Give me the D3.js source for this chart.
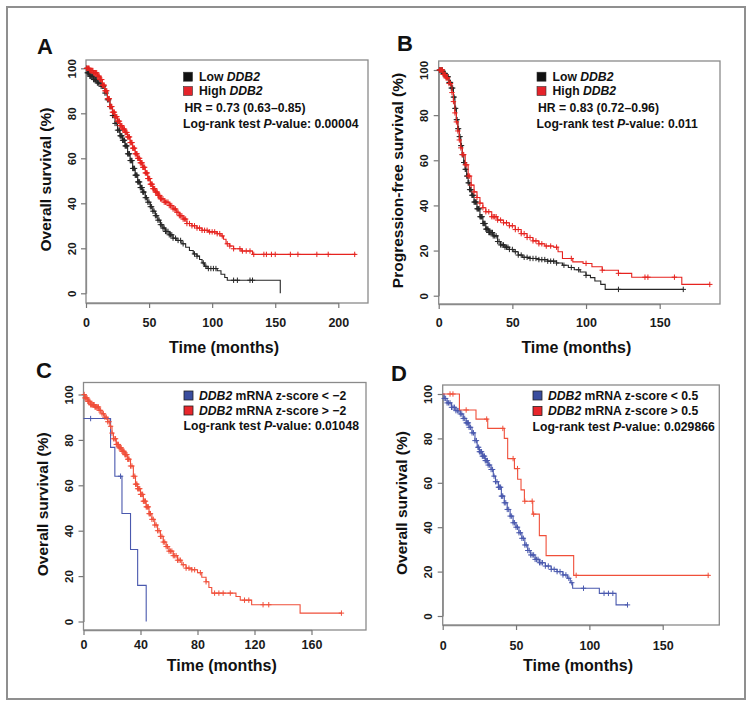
<!DOCTYPE html>
<html><head><meta charset="utf-8">
<script src="https://cdn.jsdelivr.net/npm/d3@7"></script>
<style>
body{margin:0;background:#fff}
svg{display:block}
text{font-family:"Liberation Sans",Arial,Helvetica,sans-serif}
</style>
</head><body>
<svg id="chart" width="752" height="707"></svg>
<script>
// ---------------- DATA ----------------
const panelLetters = ["A","B","C","D"];
const yTicks = [0,20,40,60,80,100];
const xTicksA = [0,50,100,150,200];
const xTicksB = [0,50,100,150];
const xTicksC = [0,40,80,120,160];
const xTicksD = [0,50,100,150];
const yTitles = ["Overall survival (%)","Progression-free survival (%)","Overall survival (%)","Overall survival (%)"];
const xTitle = "Time (months)";

// Panel A: Overall survival, Low vs High DDB2 (time months, survival %)
const aLowSteps = [[0,100],[1,98],[3,96.5],[6,95],[9,93.5],[12,92],[15,89],[17,86],[19,83],[21,79],[23,75.5],[25,72.5],[27,70],[29,68],[31,65.5],[33,62],[35,59],[37,55.5],[39,52.5],[41,49.5],[43,47],[45,45],[47,42.5],[49,40.5],[51,38.5],[53,36.5],[55,34.5],[57,32.5],[59,30.5],[61,29],[63,27.5],[66,26],[69,24.5],[72,23.5],[76,22],[79,20.5],[82,19],[85,17.5],[88,16.5],[90,15],[92,13.5],[94,12],[96,11],[104,10],[107,8.5],[110,7],[112,5.8],[154,0]];
const aHighSteps = [[0,100],[3,99],[6,98],[9,96.5],[11,95],[13,92.5],[15,90],[17,86.5],[19,83],[21,80.5],[23,78.5],[25,76.5],[27,74.5],[29,73],[31,71.5],[33,69.5],[35,67],[37,64.5],[39,62],[41,60],[43,58],[45,56],[47,53.5],[49,51],[51,48.5],[53,46.5],[55,45],[57,43.5],[59,42],[62,40.5],[66,39],[69,37.5],[72,36],[74,34.5],[77,33],[80,31],[84,30],[88,29],[92,28],[97,27.3],[104,26.5],[107,25.5],[109,24],[111,22],[114,21],[117,19.8],[123,18.8],[132,17.3],[214,17.3]];
const aLowCensor = [0.5,1,1.5,2,2.5,3,3.5,4,4.5,5,5.5,6,6.5,7,7.5,8,8.5,9,9.5,10,11,12,13,14,15,16,17,18,19,20,21,22,23,24,25,26,26.5,27,27.5,28,28.5,29,29.5,30,30.5,31,31.5,32,32.5,33,33.5,34,34.5,35,35.5,36,36.5,37,37.5,38,38.5,39,39.5,40,40.5,41,41.5,42,42.5,43,43.5,44,44.5,45,45.5,46,47,48,49,50,51,52,53,54,55,56,57,58,59,60,61,62,63,64,65,66,67,68,69,71,73,75,77,86,88,93,95,97,99,101,103,117,120,130,132];
const aHighCensor = [0.5,1,1.5,2,2.5,3,3.5,4,4.5,5,5.5,6,6.5,7,7.5,8,8.5,9,9.5,10,10.5,11,11.5,12,12.5,13,13.5,14,14.5,15,15.5,16,16.5,17,17.5,18,18.5,19,19.5,20,20.5,21,21.5,22,22.5,23,23.5,24,24.5,25,25.5,26,26.5,27,27.5,28,28.5,29,29.5,30,30.5,31,31.5,32,32.5,33,33.5,34,34.5,35,35.5,36,36.5,37,37.5,38,38.5,39,39.5,40,40.5,41,41.5,42,42.5,43,43.5,44,44.5,45,45.5,46,46.5,47,47.5,48,48.5,49,49.5,50,50.5,51,51.5,52,52.5,53,53.5,54,54.5,55,55.5,56,56.5,57,57.5,58,58.5,59,59.5,60,61,62,63,64,65,66,67,68,69,70,71,72,73,74,75,76,77,78,79,80,82,84,86,88,90,92,94,96,98,100,102,104,106,108,112,114,117,122,124,127,130,133,141,143,147,150,162,168,183,192,213];

// Panel B: Progression-free survival
const bLowSteps = [[0,100],[3,98.5],[5,97],[7,94.5],[8.5,92],[10,88],[11,83],[12,78],[13,74],[14,70.5],[15,66.5],[16,62.5],[17,59],[18,56],[19,53],[20,50],[21,47],[22.5,44.5],[24,41.5],[26,38.5],[28,35],[30,32],[32,29.5],[34,28],[37,26.5],[40,24],[42,22.5],[45,21.5],[48,20.5],[51,19.5],[54,18],[57,17],[62,16.5],[68,16],[74,15.3],[80,14.5],[84,13.5],[88,12.5],[92,11.5],[96,10.5],[100,9],[103,8],[106,6.5],[110,5],[113,2.8],[166,2.8]];
const bHighSteps = [[0,100],[3,98],[5,96.5],[7,94],[9,90],[10,86],[11,81],[12,77],[13,73],[14,69],[15,65.5],[16,62.5],[18,58],[20,53],[22,49],[24,46],[26,43.5],[28,41],[30,39],[32,37.2],[36,35],[40,33.5],[44,32.3],[48,31],[52,29.3],[56,27.5],[60,25.8],[64,24.3],[68,23],[72,22],[78,21.5],[81,19.5],[84,16.5],[91,15],[98,14.3],[104,12.8],[111,11.3],[122,9.9],[131,8.2],[165,5],[184,5]];
const bLowCensor = [0.5,1,1.5,2,2.5,3,3.5,4,4.5,5,5.5,6,6.5,7,7.5,8,8.5,9,9.5,10,10.5,11,11.5,12,12.5,13,13.5,14,14.5,15,15.5,16,16.5,17,17.5,18,18.5,19,19.5,20,20.5,21,21.5,22,22.5,23,23.5,24,24.5,25,25.5,26,26.5,27,27.5,28,28.5,29,29.5,30,30.5,31,31.5,32,32.5,33,33.5,34,34.5,35,35.5,36,36.5,37,38,39,40,41,42,43,44,45,46,47,48,50,52,54,56,58,60,62,64,66,68,70,72,74,76,78,80,85,90,95,100,122,166];
const bHighCensor = [0.5,1,1.5,2,2.5,3,3.5,4,4.5,5,5.5,6,7,8,9,10,11,12,13,14,15,16,17,18,19,20,21,22,24,26,28,30,32,34,36,37,38,39,40,42,44,46,48,50,52,54,56,58,60,62,64,66,68,70,73,76,80,90,100,111,122,140,142,160,184];

// Panel C: z-score < -2 (blue) vs > -2 (red)
const cLowSteps = [[0,89.4],[19,76.7],[22,64],[27,47.6],[33,31.7],[38,15.9],[44,0]];
const cHighSteps = [[0,100],[1,98.5],[3,97],[5,95.5],[8,94.5],[11,93],[13,91.5],[15,90],[17,88],[18.5,86],[20,83],[21,80.5],[23,78],[25,76.5],[27,75],[29,73.5],[31,71.5],[33,68.5],[35,64],[36.5,60.5],[38,58.5],[40,56],[42,53],[44,50.5],[46,47.5],[48,45],[50,42.5],[52,40],[54,37.5],[56,35],[58,33],[60,31],[63,29],[66,27],[69,25],[72,23.5],[76,22.8],[80,21.5],[83,19.5],[86,17.5],[88,15],[90,12.5],[107,11],[110,9.4],[118,7.4],[152,3.7],[181,3.7]];
const cLowCensor = [5,26];
const cHighCensor = [0.5,1,1.5,2,2.5,3,3.5,4,4.5,5,5.5,6,6.5,7,7.5,8,8.5,9,9.5,10,10.5,11,12,13,14,15,16,17,18,19,20,21,22,22.5,23,23.5,24,24.5,25,25.5,26,26.5,27,27.5,28,28.5,29,29.5,30,30.5,31,31.5,32,33,34,35,36,36.5,37,37.5,38,38.5,39,39.5,40,40.5,41,41.5,42,42.5,43,43.5,44,44.5,45,45.5,46,46.5,47,48,49,50,51,52,53,54,55,56,57,58,59,60,61,62,63,64,65,66,67,68,70,72,74,76,78,82,86,92,95,98,103,113,116,126,130,181];

// Panel D: z-score < 0.5 (blue) vs > 0.5 (red)
const dLowSteps = [[0,100],[1,98],[3,96],[6,94],[9,92.5],[12,91],[14,89],[16,87],[18,85],[20,82.5],[22,79],[23.5,76],[25,74],[27,72],[29,70],[31,68],[33,66],[34.5,63],[36,60.5],[38,58],[40,54],[42,51],[44,48],[46,45],[48,42],[50,40],[52,37.5],[54,35],[56,32],[58,29.5],[60,27.5],[63,25.5],[66,24],[70,22.5],[74,21],[78,20],[82,18.5],[85,17],[87,15],[88.6,12.5],[106.8,10.2],[118.2,5],[126,5]];
const dHighSteps = [[0,100],[11.4,92.8],[22.7,88.7],[30.7,84.5],[42,80],[44.3,70.9],[48.9,66.4],[51.1,61.6],[53.4,56.8],[55.7,51.7],[61.4,45.9],[65.9,36.2],[70.5,27.2],[89.3,18.3],[181.8,18.3]];
const dLowCensor = [1,2,3,4,5,6,7,8,9,10,11,12,13,14,15,16,16.5,17,17.5,18,19,20,21,22,23,24,24.5,25,25.5,26,26.5,27,27.5,28,28.5,29,29.5,30,30.5,31,32,33,34,35,36,37,38,38.5,39,39.5,40,40.5,41,42,43,44,45,46,47,48,49,50,51,52,53,54,55,56,57,58,59,60,61,62,63,64,65,66,67,68,70,72,74,76,78,80,82,84,86,88,96,110,113,116,126];
const dHighCensor = [5,7,16,30,41,48,51,56,61,62,91,181];

// Legend texts
const legendA = [["Low ","DDB2"],["High ","DDB2"]];
const statsA = ["HR = 0.73 (0.63\u20130.85)", "0.00004"];
const statsB = ["HR = 0.83 (0.72\u20130.96)", "0.011"];
const legendC = [["DDB2"," mRNA z-score < \u22122"],["DDB2"," mRNA z-score > \u22122"]];
const legendD = [["DDB2"," mRNA z-score < 0.5"],["DDB2"," mRNA z-score > 0.5"]];
const pC = "0.01048", pD = "0.029866";

// ---------------- STYLE / LAYOUT ----------------
const BLACK = "#262626", RED = "#e6231f", BLUE = "#4a59ae", ORANGE = "#f04f3a";
const FONT = '"Liberation Sans",Arial,Helvetica,sans-serif';
const svg = d3.select("#chart");

svg.append("rect").attr("x",7).attr("y",7).attr("width",738).attr("height",692)
  .attr("fill","#fff").attr("stroke","#8f8f8f").attr("stroke-width",2);

const panels = [
  {letter:panelLetters[0], lx:37, ly:53.5, box:[86,60,368,303], xr:[86,338.3], xd:[0,200], yr:[293.3,68.3],
   xticks:xTicksA, yTitle:yTitles[0], tickY:322, titleY:347,
   series:[{steps:aLowSteps,censor:aLowCensor,color:BLACK},{steps:aHighSteps,censor:aHighCensor,color:RED}],
   legend:{x:183.5, rows:[76.7,91,107.3,123.5], type:"ab", items:legendA, colors:["#111","#e5232a"], hr:statsA[0], p:statsA[1]}},
  {letter:panelLetters[1], lx:397, ly:51, box:[438.7,61,720,304], xr:[438.7,659.7], xd:[0,150], yr:[295.7,70],
   xticks:xTicksB, yTitle:yTitles[1], tickY:322.5, titleY:347,
   series:[{steps:bLowSteps,censor:bLowCensor,color:BLACK},{steps:bHighSteps,censor:bHighCensor,color:RED}],
   legend:{x:537, rows:[76.7,91,107.3,123.5], type:"ab", items:legendA, colors:["#111","#e5232a"], hr:statsB[0], p:statsB[1]}},
  {letter:panelLetters[2], lx:36, ly:378, box:[83.5,382.5,366,630], xr:[83.5,311.5], xd:[0,160], yr:[621.5,394.5],
   xticks:xTicksC, yTitle:yTitles[2], tickY:644, titleY:665,
   series:[{steps:cLowSteps,censor:cLowCensor,color:BLUE},{steps:cHighSteps,censor:cHighCensor,color:ORANGE}],
   legend:{x:184, rows:[395.5,410.5,425.7], type:"cd", items:legendC, colors:["#3a4d9e","#e8262b"], p:pC}},
  {letter:panelLetters[3], lx:391, ly:380.5, box:[442.7,385,719.3,625], xr:[442.7,662.7], xd:[0,150], yr:[616,394],
   xticks:xTicksD, yTitle:yTitles[3], tickY:645, titleY:665,
   series:[{steps:dLowSteps,censor:dLowCensor,color:BLUE},{steps:dHighSteps,censor:dHighCensor,color:ORANGE}],
   legend:{x:533, rows:[395.5,411,426.5], type:"cd", items:legendD, colors:["#3a4d9e","#e8262b"], p:pD}}
];

function survAt(steps, t){
  let s = steps[0][1];
  for (const [tt, v] of steps){ if (tt <= t) s = v; else break; }
  return s;
}

panels.forEach(p => {
  const g = svg.append("g");
  const [bx0,by0,bx1,by1] = p.box;
  const x = d3.scaleLinear().domain(p.xd).range(p.xr);
  const y = d3.scaleLinear().domain([0,100]).range(p.yr);

  g.append("text").attr("x",p.lx).attr("y",p.ly).text(p.letter)
    .attr("font-size",22).attr("font-weight","bold").attr("fill","#111");

  g.append("rect").attr("x",bx0).attr("y",by0).attr("width",bx1-bx0).attr("height",by1-by0)
    .attr("fill","none").attr("stroke","#8a8a8a").attr("stroke-width",1.3);

  const xa = g.append("g").attr("transform",`translate(0,${by1})`)
    .call(d3.axisBottom(x).tickValues(p.xticks).tickSize(5).tickSizeOuter(0));
  xa.select(".domain").attr("stroke","#8a8a8a").attr("stroke-width",1.3);
  xa.selectAll(".tick line").attr("stroke","#777").attr("stroke-width",1.2);
  xa.selectAll(".tick text").attr("y",p.tickY-by1).attr("dy","0.36em")
    .attr("font-size",12.5).attr("font-weight","bold").attr("font-family",FONT).attr("fill","#1a1a1a");

  const ya = g.append("g").attr("transform",`translate(${bx0},0)`)
    .call(d3.axisLeft(y).tickValues(yTicks).tickSize(5).tickSizeOuter(0));
  ya.select(".domain").attr("stroke","#8a8a8a").attr("stroke-width",1.3);
  ya.selectAll(".tick line").attr("stroke","#777").attr("stroke-width",1.2);
  ya.selectAll(".tick text").attr("x",null).attr("dy","0.36em")
    .attr("transform","translate(-14.5,0) rotate(-90)").attr("text-anchor","middle")
    .attr("font-size",11.5).attr("font-weight","bold").attr("font-family",FONT).attr("fill","#1a1a1a");

  g.append("text").attr("x",(bx0+bx1)/2-3).attr("y",p.titleY).attr("dy","0.36em")
    .attr("text-anchor","middle").attr("font-size",16).attr("font-weight","bold").attr("fill","#111")
    .text(xTitle);
  g.append("text").attr("transform",`translate(${bx0-41},${(by0+by1)/2-2}) rotate(-90)`).attr("dy","0.36em")
    .attr("text-anchor","middle").attr("font-size",15.5).attr("font-weight","bold").attr("fill","#111")
    .text(p.yTitle);

  const line = d3.line().x(d=>x(d[0])).y(d=>y(d[1])).curve(d3.curveStepAfter);
  p.series.forEach(s => {
    g.append("path").datum(s.steps).attr("d",line).attr("fill","none")
      .attr("stroke",s.color).attr("stroke-width",1.1);
    const cg = g.append("g").attr("stroke",s.color).attr("stroke-width",1);
    cg.selectAll("path").data(s.censor).join("path")
      .attr("d", t => {const cx=x(t), cy=y(survAt(s.steps,t)), h=2.7;
        return `M${cx-h},${cy}H${cx+h}M${cx},${cy-h}V${cy+h}`;});
  });

  const L = p.legend;
  const lg = g.append("g").attr("font-size",12.2).attr("font-weight","bold").attr("fill","#111");
  if (L.type === "ab"){
    L.items.forEach((it,i) => {
      lg.append("rect").attr("x",L.x).attr("y",L.rows[i]-4.5).attr("width",9).attr("height",9)
        .attr("fill",L.colors[i]).attr("stroke","#333").attr("stroke-width",0.6);
      const t = lg.append("text").attr("x",L.x+15.5).attr("y",L.rows[i]).attr("dy","0.36em");
      t.append("tspan").text(it[0]);
      t.append("tspan").attr("font-style","italic").text(it[1]);
    });
    lg.append("text").attr("x",L.x+1).attr("y",L.rows[2]).attr("dy","0.36em").text(L.hr);
    const t = lg.append("text").attr("x",L.x-0.5).attr("y",L.rows[3]).attr("dy","0.36em");
    t.append("tspan").text("Log-rank test ");
    t.append("tspan").attr("font-style","italic").text("P");
    t.append("tspan").text("-value: " + L.p);
  } else {
    L.items.forEach((it,i) => {
      lg.append("rect").attr("x",L.x).attr("y",L.rows[i]-4.5).attr("width",9).attr("height",9)
        .attr("fill",L.colors[i]).attr("stroke","#222").attr("stroke-width",0.8);
      const t = lg.append("text").attr("x",L.x+15).attr("y",L.rows[i]).attr("dy","0.36em");
      t.append("tspan").attr("font-style","italic").text(it[0]);
      t.append("tspan").text(it[1]);
    });
    const t = lg.append("text").attr("x",L.x-0.5).attr("y",L.rows[2]).attr("dy","0.36em");
    t.append("tspan").text("Log-rank test ");
    t.append("tspan").attr("font-style","italic").text("P");
    t.append("tspan").text("-value: " + L.p);
  }
});
</script>
</body></html>
